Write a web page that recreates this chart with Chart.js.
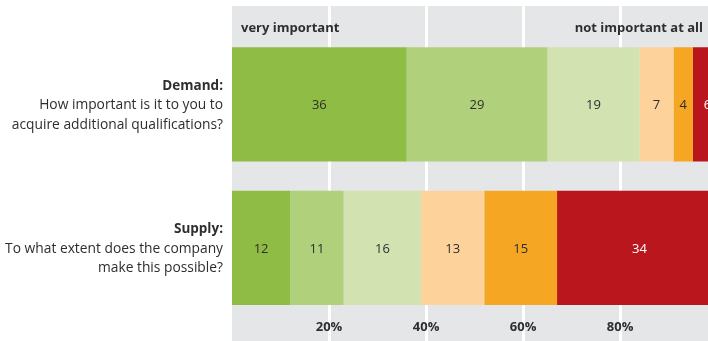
<!DOCTYPE html>
<html>
<head>
<meta charset="utf-8">
<script src="https://cdn.jsdelivr.net/npm/chart.js@4/dist/chart.umd.min.js"></script>
<style>
html, body { margin: 0; padding: 0; overflow: hidden; background: #fff; }
</style>
</head>
<body>
<canvas id="myChart" width="725" height="341"></canvas>
<script>
// categories and question texts
var categories = ['Demand', 'Supply'];
var questions = [
    ['How important is it to you to', 'acquire additional qualifications?'],
    ['To what extent does the company', 'make this possible?']
];

// answer levels, from "very important" to "not important at all"
var levelNames = ['very important', 'rather important', 'somewhat important', 'rather unimportant', 'unimportant', 'not important at all'];
var level1 = [36, 12];
var level2 = [29, 11];
var level3 = [19, 16];
var level4 = [7, 13];
var level5 = [4, 15];
var level6 = [6, 34];

var tickValues = [20, 40, 60, 80];

var levelColors = ['#8fbc45', '#b0d07b', '#d2e2b1', '#fdd39b', '#f5a623', '#b9161e'];
var labelColors = ['#2e2e2e', '#2e2e2e', '#2e2e2e', '#2e2e2e', '#2e2e2e', '#ffffff'];

var fontFamily = '"Open Sans", "Noto Sans", sans-serif';
var textColor = '#2e2e2e';

var element = document.getElementById('myChart').getContext('2d');

var allLevels = [level1, level2, level3, level4, level5, level6];
var datasets = allLevels.map(function (values, i) {
    return {
        label: levelNames[i],
        data: values,
        backgroundColor: levelColors[i],
        borderWidth: 0,
        categoryPercentage: 1,
        barPercentage: 0.797
    };
});

// gray backdrop, white grid lines, header and question texts
var backdrop = {
    id: 'backdrop',
    beforeDraw: function (chart) {
        var ctx = chart.ctx;
        var x = chart.scales.x;
        var y = chart.scales.y;
        var left = x.getPixelForValue(0);
        ctx.save();
        ctx.fillStyle = '#e5e6e8';
        ctx.fillRect(left, 6, chart.width - left, chart.height - 6);
        ctx.strokeStyle = '#ffffff';
        ctx.lineWidth = 3;
        tickValues.forEach(function (v) {
            var px = Math.round(x.getPixelForValue(v)) + 0.5;
            ctx.beginPath();
            ctx.moveTo(px, 6);
            ctx.lineTo(px, chart.height);
            ctx.stroke();
        });

        ctx.fillStyle = textColor;
        ctx.textBaseline = 'middle';
        ctx.font = 'bold 13px ' + fontFamily;
        ctx.textAlign = 'left';
        ctx.fillText(levelNames[0], 241, 28);
        ctx.textAlign = 'right';
        ctx.fillText(levelNames[5], 703, 28);

        categories.forEach(function (cat, i) {
            var cy = y.getPixelForValue(i);
            var lines = questions[i];
            var top = cy - 19.5 * lines.length / 2;
            ctx.font = 'bold 13.5px ' + fontFamily;
            ctx.fillText(cat + ':', 223, top + 1);
            ctx.font = '13.8px ' + fontFamily;
            lines.forEach(function (line, j) {
                ctx.fillText(line, 223, top + 1 + 19.5 * (j + 1));
            });
        });
        ctx.restore();
    },
    afterDatasetsDraw: function (chart) {
        var ctx = chart.ctx;
        ctx.save();
        ctx.font = '13px ' + fontFamily;
        ctx.textAlign = 'center';
        ctx.textBaseline = 'middle';
        chart.data.datasets.forEach(function (ds, i) {
            chart.getDatasetMeta(i).data.forEach(function (bar, j) {
                var p = bar.getProps(['x', 'y', 'base'], true);
                ctx.fillStyle = labelColors[i];
                ctx.fillText(ds.data[j], (p.x + p.base) / 2, p.y + 1);
            });
        });
        ctx.restore();
    }
};

var chartOptions = {
    indexAxis: 'y',
    responsive: false,
    animation: false,
    layout: {
        padding: { left: 232, right: 3, top: 32.8, bottom: 5.9 }
    },
    plugins: {
        legend: { display: false },
        tooltip: { enabled: false }
    },
    scales: {
        x: {
            stacked: true,
            min: 0,
            max: 101,
            afterBuildTicks: function (scale) {
                scale.ticks = tickValues.map(function (v) { return { value: v }; });
            },
            grid: { display: false, drawTicks: false },
            border: { display: false },
            ticks: {
                autoSkip: false,
                maxRotation: 0,
                padding: 0,
                color: textColor,
                font: { family: fontFamily, size: 13, weight: 'bold' },
                callback: function (v) { return v + '%'; }
            }
        },
        y: {
            stacked: true,
            display: false
        }
    }
};

var chart = new Chart(element, {
    type: 'bar',
    data: { labels: categories, datasets: datasets },
    options: chartOptions,
    plugins: [backdrop]
});
</script>
</body>
</html>
